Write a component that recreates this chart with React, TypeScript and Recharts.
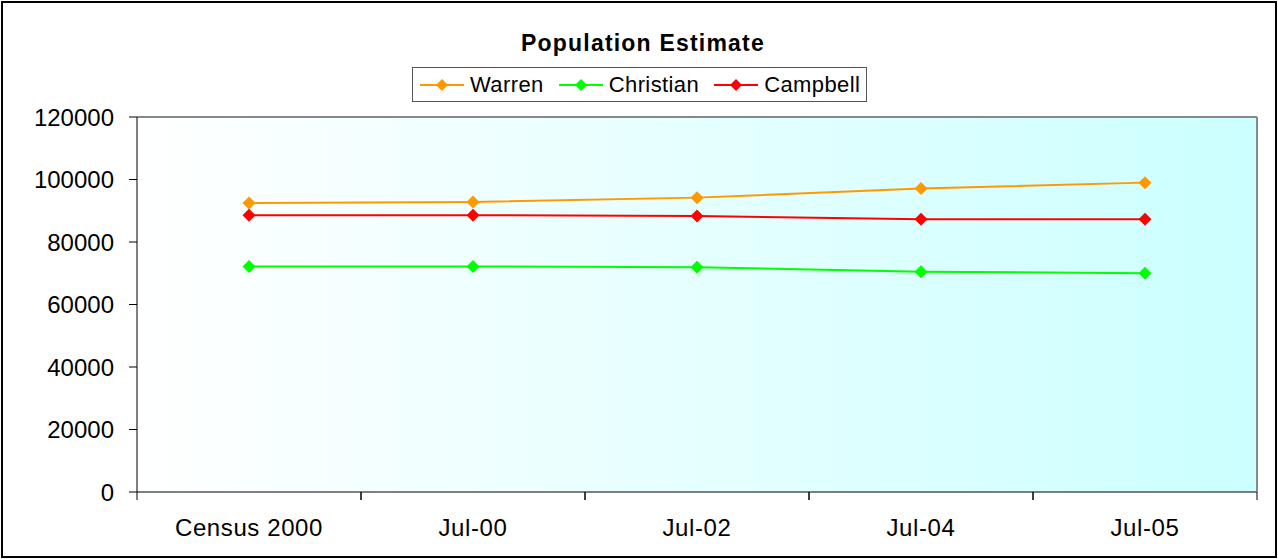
import React from 'react';
import { LineChart, Line, XAxis, YAxis, CartesianGrid, Legend } from 'recharts';

const categories = ['Census 2000', 'Jul-00', 'Jul-02', 'Jul-04', 'Jul-05'];
const warren = [92500, 92800, 94200, 97100, 99000];
const christian = [72200, 72200, 71900, 70500, 70000];
const campbell = [88600, 88600, 88300, 87300, 87300];
const yTicks = [0, 20000, 40000, 60000, 80000, 100000, 120000];

const seriesList = [
  { key: 'warren', name: 'Warren', color: '#FF9900' },
  { key: 'christian', name: 'Christian', color: '#00FF00' },
  { key: 'campbell', name: 'Campbell', color: '#FF0000' },
];

const data = categories.map((label, i) => ({
  label,
  warren: warren[i],
  christian: christian[i],
  campbell: campbell[i],
}));

const FONT = '"Liberation Sans", Arial, sans-serif';
const BAND = 224;

const Diamond = (props: any) => {
  const { cx, cy, fill } = props;
  if (cx == null || cy == null) return null;
  const r = 6.5;
  return (
    <polygon
      points={`${cx},${cy - r} ${cx + r},${cy} ${cx},${cy + r} ${cx - r},${cy}`}
      fill={fill}
    />
  );
};

const XTick = (props: any) => {
  const { x, y, payload } = props;
  const axisY = y - 27;
  return (
    <g>
      <line x1={x - BAND / 2} y1={axisY} x2={x - BAND / 2} y2={axisY + 8} stroke="#000" />
      <line x1={x + BAND / 2} y1={axisY} x2={x + BAND / 2} y2={axisY + 8} stroke="#000" />
      <text
        x={x}
        y={y}
        dy="0.71em"
        textAnchor="middle"
        fontSize={24}
        letterSpacing={0.6}
        fontFamily={FONT}
        fill="#000"
      >
        {payload.value}
      </text>
    </g>
  );
};

const renderLegend = () => (
  <div
    style={{
      display: 'flex',
      alignItems: 'center',
      border: '1px solid #555',
      background: '#fff',
      height: 35,
      padding: '0 6px 0 6px',
      fontFamily: FONT,
      fontSize: 22,
      letterSpacing: 0.4,
      boxSizing: 'border-box',
    }}
  >
    {seriesList.map((s, i) => (
      <div key={s.key} style={{ display: 'flex', alignItems: 'center', marginRight: i < 2 ? 14 : 0 }}>
        <svg width={46} height={20} style={{ marginRight: 5 }}>
          <line x1={1} y1={10} x2={45} y2={10} stroke={s.color} strokeWidth={2} />
          <polygon points="23,4 29,10 23,16 17,10" fill={s.color} />
        </svg>
        <span>{s.name}</span>
      </div>
    ))}
  </div>
);

export default function App() {
  return (
    <div style={{ position: 'absolute', left: 0, top: 0, width: 1278, height: 559, background: '#fff' }}>
      <div
        style={{
          position: 'absolute',
          left: 0,
          top: 30,
          width: 1278,
          textAlign: 'center',
          fontFamily: FONT,
          fontWeight: 'bold',
          fontSize: 23,
          letterSpacing: 1.2,
          paddingLeft: 8,
          boxSizing: 'border-box',
        }}
      >
        Population Estimate
      </div>
      <LineChart
        width={1278}
        height={559}
        data={data}
        margin={{ top: 116, right: 20, bottom: 0, left: 0 }}
      >
        <defs>
          <linearGradient id="plotBg" x1="0" y1="0" x2="1" y2="0">
            <stop offset="0%" stopColor="#FFFFFF" />
            <stop offset="100%" stopColor="#CCFFFF" />
          </linearGradient>
        </defs>
        <CartesianGrid fill="url(#plotBg)" fillOpacity={1} horizontal={false} vertical={false} />
        <XAxis
          dataKey="label"
          padding={{ left: BAND / 2, right: BAND / 2 }}
          axisLine={{ stroke: '#000', strokeWidth: 1 }}
          tickLine={false}
          tickSize={8}
          tickMargin={19}
          tick={<XTick />}
          interval={0}
          height={67}
        />
        <XAxis
          xAxisId="top"
          orientation="top"
          dataKey="label"
          height={1}
          tick={false}
          tickLine={false}
          axisLine={{ stroke: '#888', strokeWidth: 2 }}
        />
        <YAxis
          width={137}
          domain={[0, 120000]}
          ticks={yTicks}
          interval={0}
          tickSize={8}
          tickMargin={15}
          axisLine={{ stroke: '#000', strokeWidth: 1 }}
          tickLine={{ stroke: '#000' }}
          tick={{ fill: '#000', fontSize: 24, fontFamily: FONT }}
        />
        <YAxis
          yAxisId="right"
          orientation="right"
          width={1}
          domain={[0, 120000]}
          tick={false}
          tickLine={false}
          axisLine={{ stroke: '#888', strokeWidth: 2 }}
        />
        <Legend
          layout="horizontal"
          verticalAlign="middle"
          align="center"
          content={renderLegend}
          wrapperStyle={{ top: 67, left: 412, width: 'auto', height: 35 }}
        />
        {seriesList.map((s) => (
          <Line
            key={s.key}
            type="linear"
            dataKey={s.key}
            name={s.name}
            stroke={s.color}
            strokeWidth={2}
            fill={s.color}
            dot={<Diamond fill={s.color} />}
            activeDot={false}
            isAnimationActive={false}
          />
        ))}
      </LineChart>
      <div
        style={{
          position: 'absolute',
          left: 1,
          top: 1,
          width: 1276,
          height: 557,
          border: '2px solid #000',
          boxSizing: 'border-box',
          pointerEvents: 'none',
        }}
      />
    </div>
  );
}
